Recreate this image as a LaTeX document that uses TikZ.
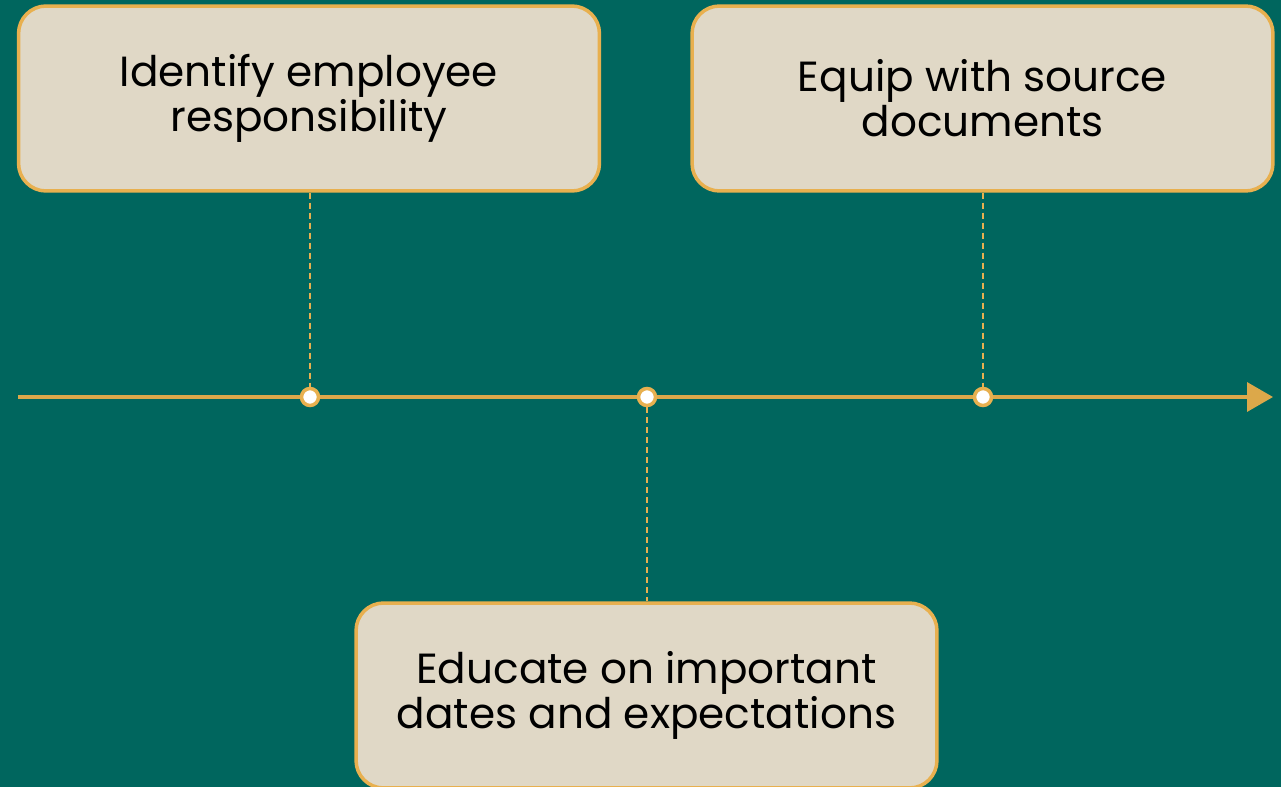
\documentclass[tikz,border=0pt]{standalone}
\usepackage{fontspec}
\setmainfont{Poppins}
\usetikzlibrary{positioning,arrows.meta}
\definecolor{bgteal}{HTML}{00665E}
\definecolor{boxfill}{HTML}{E0D8C6}
\definecolor{lineorange}{HTML}{E8B04F}
\definecolor{arroworange}{HTML}{DCA84A}
\begin{document}
\begin{tikzpicture}[x=0.02cm, y=-0.02cm]
        \tikzstyle{stepbox} = [draw=lineorange, fill=boxfill, line width=2pt, rounded corners=0.55cm,
            minimum width=11.62cm, minimum height=3.7cm, align=center, text=black,
            font=\fontsize{24}{25.5}\selectfont]
        \tikzstyle{dot} = [circle, draw=lineorange, fill=white, line width=2pt, minimum size=0.34cm, inner sep=0pt]
        \tikzstyle{link} = [draw=lineorange, line width=0.9pt, dash pattern=on 0.12cm off 0.08cm]
        % Background and fixed picture size
        \fill[bgteal] (0,0) rectangle (1281,787);
        \useasboundingbox (0,0) rectangle (1281,787);
        % Draw the time axis with its arrow
        \coordinate (axisstart) at (18,397);
        \coordinate (axisend) at (1273,397);
        \draw[arroworange, line width=2pt, -{Triangle[length=0.52cm, width=0.58cm]}] (axisstart) -- (axisend);
        % Draw the three steps
        \node[stepbox] (identify) at (309,98.5) {Identify employee\\responsibility};
        \node[stepbox] (equip) at (982.5,98.5) {Equip with source\\documents};
        \node[stepbox] (educate) at (646.5,695.5) {Educate on important\\dates and expectations};
        % Draw the markers on the axis
        \node[dot] (mark1) at (310,397) {};
        \node[dot] (mark2) at (647,397) {};
        \node[dot] (mark3) at (983,397) {};
        % Connect each step to its marker
        \draw[link] (identify.south -| mark1) -- (mark1.north);
        \draw[link] (equip.south -| mark3) -- (mark3.north);
        \draw[link] (mark2.south) -- (educate.north -| mark2);
\end{tikzpicture}
\end{document}
